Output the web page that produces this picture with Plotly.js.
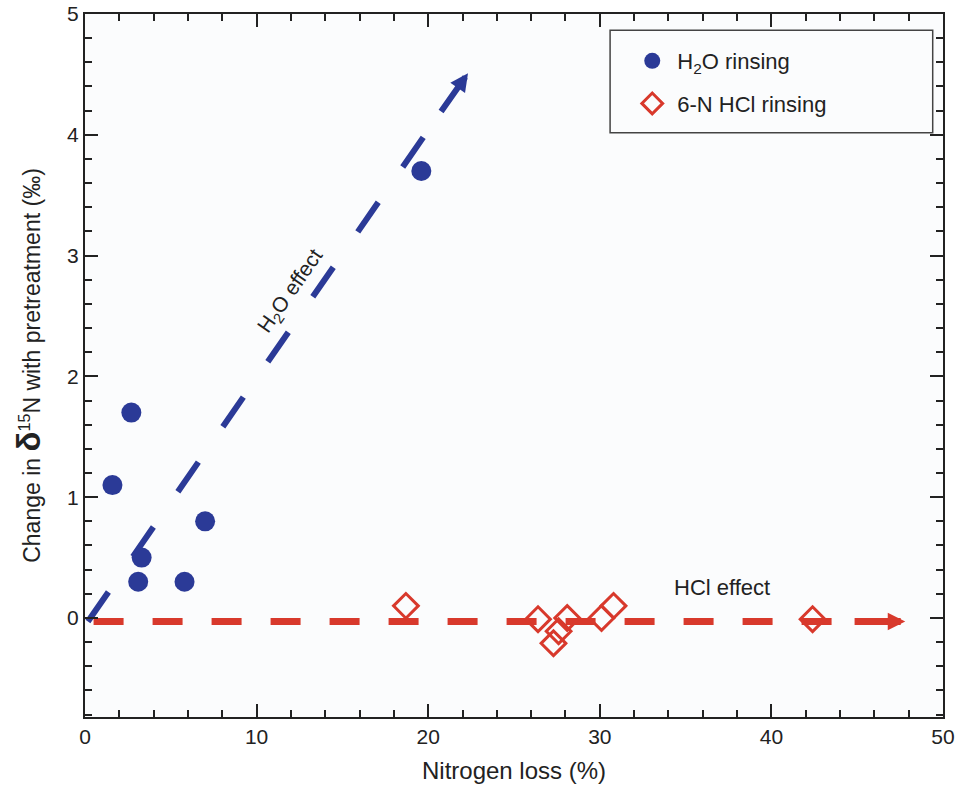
<!DOCTYPE html>
<html>
<head>
<meta charset="utf-8">
<script src="https://cdn.plot.ly/plotly-3.0.1.min.js"></script>
<style>html,body{margin:0;padding:0;background:#fff;}#chart{width:961px;height:793px;}</style>
</head>
<body>
<div id="chart"></div>
<script>
// Data
const h2oX = [1.6, 2.7, 3.3, 3.1, 5.8, 7.0, 19.6];
const h2oY = [1.1, 1.7, 0.5, 0.3, 0.3, 0.8, 3.7];
const hclX = [18.7, 26.4, 27.6, 27.3, 28.1, 30.1, 30.8, 42.4];
const hclY = [0.1, -0.01, -0.11, -0.21, 0.0, 0.0, 0.1, -0.01];

// Trend arrows (start, arrow-tail, tip)
const h2oLineX = [0.17, 20.3];
const h2oLineY = [-0.03, 4.1];
const h2oArrowTail = [20.69, 4.18];
const h2oArrowTip = [22.32, 4.51];
const hclLineX = [0.5, 44.3];
const hclLineY = [-0.03, -0.03];
const hclArrowTail = [44.76, -0.03];
const hclArrowTip = [47.8, -0.03];

const xTicks = [0, 10, 20, 30, 40, 50];
const yTicks = [0, 1, 2, 3, 4, 5];

const BLUE = '#2b3a97';
const RED = '#d8392c';
const FONT = '"Liberation Sans", Arial, Helvetica, sans-serif';

const traces = [
  {x: h2oLineX, y: h2oLineY, mode: 'lines', showlegend: false, hoverinfo: 'skip',
   line: {color: BLUE, width: 6, dash: '36px,43px'}},
  {x: hclLineX, y: hclLineY, mode: 'lines', showlegend: false, hoverinfo: 'skip',
   line: {color: RED, width: 7, dash: '30px,29px'}},
  {x: h2oX, y: h2oY, mode: 'markers', name: 'H<sub>2</sub>O rinsing', legendgroup: 'a',
   marker: {symbol: 'circle', size: 20, color: BLUE}},
  {x: hclX, y: hclY, mode: 'markers', name: '6-N HCl rinsing', legendgroup: 'b',
   marker: {symbol: 'diamond-open', size: 19, color: RED, line: {color: RED, width: 3}}}
];

const axisCommon = {
  showgrid: false, zeroline: false, showline: true, linecolor: '#222', linewidth: 2,
  mirror: 'allticks', ticks: 'inside', ticklen: 13, tickwidth: 2, tickcolor: '#222',
  tickfont: {family: FONT, size: 21, color: '#222'}
};

const layout = {
  width: 961, height: 793,
  margin: {l: 85, r: 18, t: 14, b: 76},
  paper_bgcolor: '#ffffff', plot_bgcolor: '#fbfcfd',
  font: {family: FONT, color: '#222'},
  xaxis: Object.assign({}, axisCommon, {
    range: [0, 50], tickvals: xTicks, ticktext: xTicks.map(String),
    minor: {ticks: 'inside', ticklen: 7, tickwidth: 2, dtick: 2, tickcolor: '#222'},
    title: {text: 'Nitrogen loss (%)', font: {family: FONT, size: 24, color: '#222'}, standoff: 15}
  }),
  yaxis: Object.assign({}, axisCommon, {
    range: [-0.82, 5], tickvals: yTicks, ticktext: yTicks.map(String),
    minor: {ticks: 'inside', ticklen: 7, tickwidth: 2, dtick: 0.2, tickcolor: '#222'},
    title: {text: 'Change in <span style="font-size:33px"><b>δ</b></span><sup>15</sup>N with pretreatment (‰)',
            font: {family: FONT, size: 23, color: '#222'}, standoff: 20}
  }),
  showlegend: true,
  legend: {
    x: 0.632, y: 0.963, xanchor: 'left', yanchor: 'top',
    bgcolor: 'rgba(0,0,0,0)', borderwidth: 0,
    font: {family: FONT, size: 22, color: '#222'},
    traceorder: 'grouped', tracegroupgap: 11, itemwidth: 40
  },
  shapes: [
    {type: 'rect', xref: 'paper', yref: 'paper', x0: 0.612, x1: 0.988, y0: 0.831, y1: 0.977,
     line: {color: '#444', width: 1.5}, fillcolor: 'rgba(0,0,0,0)'}
  ],
  annotations: [
    {x: h2oArrowTip[0], y: h2oArrowTip[1], ax: h2oArrowTail[0], ay: h2oArrowTail[1],
     xref: 'x', yref: 'y', axref: 'x', ayref: 'y', text: '', showarrow: true,
     arrowhead: 2, arrowsize: 0.6, arrowwidth: 6, arrowcolor: BLUE},
    {x: hclArrowTip[0], y: hclArrowTip[1], ax: hclArrowTail[0], ay: hclArrowTail[1],
     xref: 'x', yref: 'y', axref: 'x', ayref: 'y', text: '', showarrow: true,
     arrowhead: 2, arrowsize: 0.5, arrowwidth: 7, arrowcolor: RED},
    {x: 12.0, y: 2.71, xref: 'x', yref: 'y', text: 'H<sub>2</sub>O effect', showarrow: false,
     textangle: -55, font: {family: FONT, size: 21, color: '#222'}},
    {x: 37.1, y: 0.25, xref: 'x', yref: 'y', text: 'HCl effect', showarrow: false,
     font: {family: FONT, size: 22, color: '#222'}}
  ]
};

Plotly.newPlot('chart', traces, layout, {displayModeBar: false, staticPlot: true});
</script>
</body>
</html>
